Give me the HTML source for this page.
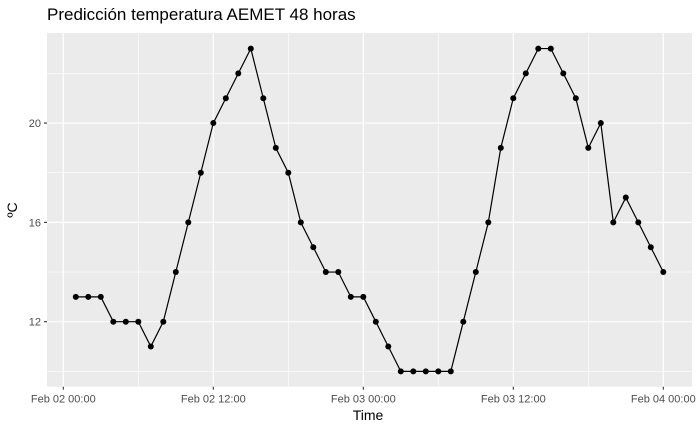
<!DOCTYPE html>
<html><head><meta charset="utf-8"><style>
body{margin:0;background:#fff;}
svg{display:block;font-family:"Liberation Sans",sans-serif;}
</style></head><body>
<svg id="chart" width="700" height="432">
<text x="47" y="20" font-size="17" fill="#000">Predicción temperatura AEMET 48 horas</text>
<rect x="47" y="33" width="645" height="353.7" fill="#ebebeb"/>
<g id="grid"></g>
<g id="axes"></g>
<g id="series"></g>
<text x="368" y="420" font-size="14" text-anchor="middle" fill="#000">Time</text>
<text transform="translate(17,210) rotate(-90)" font-size="14" text-anchor="middle" fill="#000">ºC</text>
</svg>
<script>
const hours = [1,2,3,4,5,6,7,8,9,10,11,12,13,14,15,16,17,18,19,20,21,22,23,24,25,26,27,28,29,30,31,32,33,34,35,36,37,38,39,40,41,42,43,44,45,46,47,48];
const temps = [13,13,13,12,12,12,11,12,14,16,18,20,21,22,23,21,19,18,16,15,14,14,13,13,12,11,10,10,10,10,10,12,14,16,19,21,22,23,23,22,21,19,20,16,17,16,15,14];
const xTickHours = [0,12,24,36,48];
const xTickLabels = ["Feb 02 00:00","Feb 02 12:00","Feb 03 00:00","Feb 03 12:00","Feb 04 00:00"];
const xMinorHours = [6,18,30,42];
const yTicks = [12,16,20];
const yMinor = [10,14,18,22];

const NS="http://www.w3.org/2000/svg";
const L=47,R=692,T=33,B=386.7;
function x(h){return 63.3+h*12.5;}
function y(v){return 321.7-(v-12)*24.83;}
function mk(tag,attrs,parent){const e=document.createElementNS(NS,tag);for(const k in attrs)e.setAttribute(k,attrs[k]);parent.appendChild(e);return e;}
const grid=document.getElementById('grid'),axes=document.getElementById('axes'),series=document.getElementById('series');
yMinor.forEach(v=>{const e=mk('line',{x1:L,x2:R,y1:y(v),y2:y(v),stroke:'#fff','stroke-width':0.6},grid);

});
xMinorHours.forEach(h=>{const e=mk('line',{x1:x(h),x2:x(h),y1:T,y2:B,stroke:'#fff','stroke-width':0.6},grid);

});
yTicks.forEach(v=>{const e=mk('line',{x1:L,x2:R,y1:y(v),y2:y(v),stroke:'#fff','stroke-width':1.2},grid);


const t=mk('line',{x1:L-3,x2:L,y1:y(v),y2:y(v),stroke:'#333','stroke-width':1.1},axes);


const l=mk('text',{x:L-6,y:y(v)+4,'font-size':11,'text-anchor':'end',fill:'#4d4d4d'},axes);l.textContent=v;

});
xTickHours.forEach((h,i)=>{const e=mk('line',{x1:x(h),x2:x(h),y1:T,y2:B,stroke:'#fff','stroke-width':1.2},grid);


const t=mk('line',{x1:x(h),x2:x(h),y1:B,y2:B+3,stroke:'#333','stroke-width':1.1},axes);


const l=mk('text',{x:x(h),y:B+16,'font-size':11,'text-anchor':'middle',fill:'#4d4d4d'},axes);l.textContent=xTickLabels[i];

});
const pts=hours.map((h,i)=>x(h)+','+y(temps[i])).join(' ');
const line=mk('polyline',{points:pts,fill:'none',stroke:'#000','stroke-width':1.2},series);


hours.forEach((h,i)=>{const c=mk('circle',{cx:x(h),cy:y(temps[i]),r:3,fill:'#000'},series);

});
</script>
</body></html>
